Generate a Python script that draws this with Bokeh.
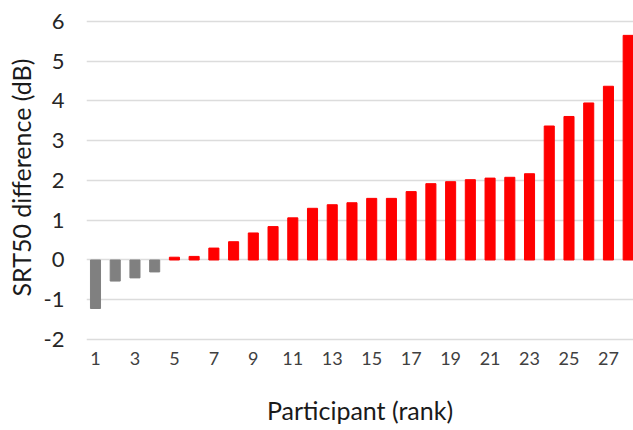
from bokeh.plotting import figure
from bokeh.models import ColumnDataSource, FixedTicker
from bokeh.embed import file_html
from bokeh.resources import INLINE

participants = list(range(1, 29))
srt50_diff = [-1.22, -0.53, -0.45, -0.30, 0.07, 0.09, 0.30, 0.46, 0.68, 0.84,
              1.06, 1.30, 1.39, 1.44, 1.55, 1.55, 1.72, 1.92, 1.97, 2.02,
              2.06, 2.08, 2.17, 3.37, 3.61, 3.95, 4.37, 5.65]
x_ticks = list(range(1, 28, 2))
y_ticks = [-2, -1, 0, 1, 2, 3, 4, 5, 6]
y_tick_labels = ["-2", "-1", "0", "1", "2", "3", "4", "5", "6"]

colors = ["#808080" if v < 0 else "#ff0000" for v in srt50_diff]
src = ColumnDataSource(dict(x=participants, top=srt50_diff, color=colors))

FONT = "Lato"

p = figure(width=633, height=430, output_backend="svg", toolbar_location=None,
           x_range=(0.544, 28.27), y_range=(-2.05, 6.2),
           min_border_left=86, min_border_right=0, min_border_top=13, min_border_bottom=89)
p.outline_line_color = None
p.background_fill_color = "white"
p.border_fill_color = "white"

p.vbar(x="x", top="top", bottom=0, width=0.51, color="color", source=src)

p.xgrid.grid_line_color = None
p.ygrid.grid_line_color = "#dcdcdc"
p.ygrid.grid_line_width = 1.5
p.ygrid.ticker = FixedTicker(ticks=y_ticks)

p.xaxis.ticker = FixedTicker(ticks=x_ticks)
p.yaxis.ticker = FixedTicker(ticks=y_ticks)
p.yaxis.major_label_overrides = {t: s for t, s in zip(y_ticks, y_tick_labels)}
for ax in (p.xaxis, p.yaxis):
    ax.axis_line_color = None
    ax.major_tick_line_color = None
    ax.minor_tick_line_color = None
    ax.major_tick_out = 0
    ax.major_tick_in = 0
    ax.major_label_text_font = FONT
    ax.axis_label_text_font = FONT
    ax.axis_label_text_font_style = "normal"
    ax.axis_label_text_font_size = "25px"
    ax.axis_label_text_color = "#1a1a1a"

p.xaxis.major_label_text_font_size = "18px"
p.xaxis.major_label_text_color = "#404040"
p.xaxis.major_label_standoff = 10
p.xaxis.axis_label = "Participant (rank)"
p.xaxis.axis_label_standoff = 27

p.yaxis.major_label_text_font_size = "22px"
p.yaxis.major_label_text_color = "#262626"
p.yaxis.major_label_standoff = 22
p.yaxis.axis_label = "SRT50 difference (dB)"
p.yaxis.axis_label_standoff = 5

open("out.html", "w").write(file_html(p, INLINE))
